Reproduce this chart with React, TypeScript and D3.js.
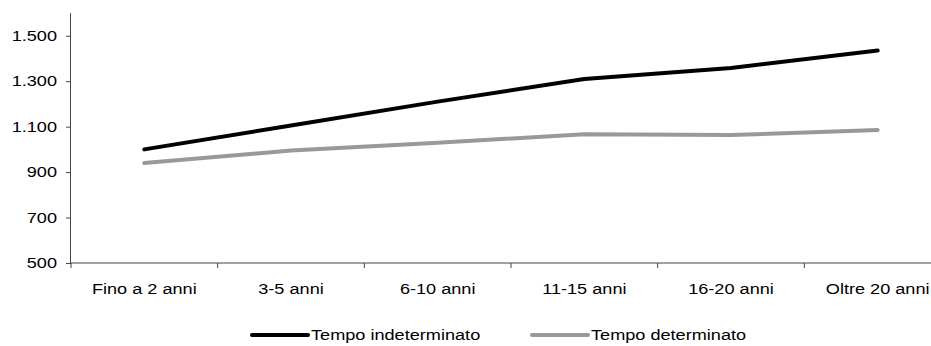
import * as d3 from "d3";
import { useEffect, useRef } from "react";

const categories = ["Fino a 2 anni", "3-5 anni", "6-10 anni", "11-15 anni", "16-20 anni", "Oltre 20 anni"];
const indeterminato = [1000, 1105, 1210, 1310, 1358, 1435];
const determinato = [940, 995, 1029, 1067, 1063, 1085];
const yTicks = [500, 700, 900, 1100, 1300, 1500];

const series = [
  { name: "Tempo indeterminato", values: indeterminato, color: "#000000" },
  { name: "Tempo determinato", values: determinato, color: "#999999" },
];

function App() {
  const ref = useRef<SVGSVGElement | null>(null);

  useEffect(() => {
    const svg = d3.select(ref.current);
    svg.selectAll("*").remove();

    const width = 931, height = 346;
    // plot area runs past the right edge, as in the original
    const left = 71, right = 951, top = 13, bottom = 263;
    const sx = 1.21; // the original text is stretched horizontally

    const x = d3.scaleBand().domain(categories).range([left, right]);
    const y = d3.scaleLinear().domain([500, 1600]).range([bottom, top]);

    svg.attr("width", width).attr("height", height);
    const font = "'Liberation Sans', Arial, sans-serif";
    const fmt = (d: number) => d3.format(",")(d).replace(/,/g, ".");

    // y axis
    const yAxis = svg.append("g").attr("transform", `translate(${left},0)`)
      .call(d3.axisLeft(y).tickValues(yTicks).tickSize(5).tickFormat(() => ""));
    yAxis.select(".domain").attr("d", `M-0.5,${top}V${bottom}`);
    yAxis.selectAll("line, path").attr("stroke", "#444");
    svg.append("g").selectAll("text").data(yTicks).join("text")
      .attr("transform", (d) => `translate(57,${y(d) + 5}) scale(${sx},1)`)
      .attr("text-anchor", "end").attr("font-size", 15).attr("font-family", font)
      .text((d) => fmt(d));

    // x axis
    const xAxis = svg.append("g").attr("transform", `translate(0,${bottom})`);
    xAxis.append("line").attr("x1", left).attr("x2", right).attr("y1", 0).attr("y2", 0);
    const bounds = categories.map((c) => x(c)!).concat([right]);
    xAxis.selectAll(".tk").data(bounds).join("line")
      .attr("x1", (d) => d).attr("x2", (d) => d).attr("y1", 0).attr("y2", 5);
    xAxis.selectAll("line").attr("stroke", "#444").attr("stroke-width", 1);
    xAxis.selectAll("text").data(categories).join("text")
      .attr("transform", (d) => `translate(${x(d)! + x.bandwidth() / 2},31) scale(${sx},1)`)
      .attr("text-anchor", "middle").attr("font-size", 15).attr("font-family", font)
      .attr("fill", "#000").text((d) => d);

    const line = d3.line<number>()
      .x((_, i) => x(categories[i])! + x.bandwidth() / 2)
      .y((d) => y(d));

    series.forEach((s) => {
      svg.append("path").attr("d", line(s.values)!)
        .attr("fill", "none").attr("stroke", s.color).attr("stroke-width", 4)
        .attr("stroke-linejoin", "round").attr("stroke-linecap", "round");
    });

    // legend
    const legendX = [252, 532];
    series.forEach((s, i) => {
      const g = svg.append("g").attr("transform", `translate(${legendX[i]},335)`);
      g.append("line").attr("x1", 0).attr("x2", 56).attr("stroke", s.color).attr("stroke-width", 4)
        .attr("stroke-linecap", "round");
      g.append("text").attr("transform", `translate(59,5) scale(${sx},1)`)
        .attr("font-size", 15).attr("font-family", font)
        .text(s.name);
    });
  }, []);

  return <svg ref={ref} style={{ position: "absolute", left: 0, top: 0 }}></svg>;
}

export default App;
